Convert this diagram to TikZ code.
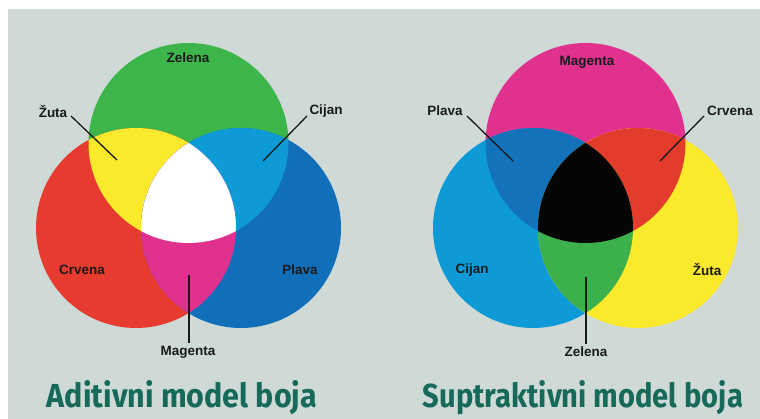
\documentclass[tikz,border=0pt]{standalone}
\usepackage{fontspec}
\setmainfont{Liberation Sans}
\newfontfamily\titlefont{Fira Sans}
\usepackage{graphicx}
\definecolor{bg}{HTML}{CFDAD6}
\definecolor{titlecol}{HTML}{17695A}
\definecolor{lbl}{HTML}{1A1A1A}
\definecolor{cgreen}{HTML}{3CB54A}
\definecolor{cred}{HTML}{E63B2E}
\definecolor{cblue}{HTML}{106FB8}
\definecolor{cyellow}{HTML}{FBE92B}
\definecolor{ccyan}{HTML}{0E9AD7}
\definecolor{cmagenta}{HTML}{E0318F}
\definecolor{sblue}{HTML}{1372B9}
\definecolor{sred}{HTML}{E33B2C}
\definecolor{sgreen}{HTML}{3CB04A}
\definecolor{sblack}{HTML}{050505}
\tikzset{
  lab/.style={text=lbl,font=\fontsize{13.5}{15}\selectfont\bfseries,inner sep=0pt},
  leader/.style={draw=lbl,line width=1.3pt},
  ttl/.style={text=titlecol,anchor=base,inner sep=0pt}
}
\begin{document}
\begin{tikzpicture}[x=1pt,y=-1pt]
\useasboundingbox (0,0) rectangle (760,419);
\fill[white] (0,0) rectangle (760,419);
\fill[bg] (8,9) rectangle (760,419);
% additive centres
\coordinate (G) at (188.5,143);
\coordinate (R) at (136,228);
\coordinate (B) at (241,228);
\fill[cgreen] (G) circle (100pt);
\fill[cred] (R) circle (100pt);
\fill[cblue] (B) circle (100pt);
\begin{scope}\clip (R) circle (100pt); \fill[cyellow] (G) circle (100pt);\end{scope}
\begin{scope}\clip (B) circle (100pt); \fill[ccyan] (G) circle (100pt);\end{scope}
\begin{scope}\clip (R) circle (100pt); \fill[cmagenta] (B) circle (100pt);\end{scope}
\begin{scope}\clip (R) circle (100pt); \clip (B) circle (100pt); \fill[white] (G) circle (100pt);\end{scope}
% subtractive centres
\coordinate (M) at (585.5,143);
\coordinate (C) at (533,228);
\coordinate (Y) at (638,228);
\fill[cmagenta] (M) circle (100pt);
\fill[ccyan] (C) circle (100pt);
\fill[cyellow] (Y) circle (100pt);
\begin{scope}\clip (C) circle (100pt); \fill[sblue] (M) circle (100pt);\end{scope}
\begin{scope}\clip (Y) circle (100pt); \fill[sred] (M) circle (100pt);\end{scope}
\begin{scope}\clip (C) circle (100pt); \fill[sgreen] (Y) circle (100pt);\end{scope}
\begin{scope}\clip (C) circle (100pt); \clip (Y) circle (100pt); \fill[sblack] (M) circle (100pt);\end{scope}
% additive labels
\node[lab] (zelenaA) at (188,58) {Zelena};
\node[lab] (zutaA) at (53,112) {Žuta};
\node[lab] (cijanA) at (326,111) {Cijan};
\node[lab] (crvenaA) at (82,270) {Crvena};
\node[lab] (plavaA) at (300,270) {Plava};
\node[lab] (magentaA) at (188,352) {Magenta};
\coordinate (zutaEnd) at (117,160);
\coordinate (cijanEnd) at (263,161);
\coordinate (magentaEnd) at (189,275);
\draw[leader] (71,116) coordinate (zutaStart) -- (zutaEnd);
\draw[leader] (307,116) coordinate (cijanStart) -- (cijanEnd);
\draw[leader] (magentaA.north) ++(1,-3) coordinate (magStart) -- (magentaEnd);
% subtractive labels
\node[lab] (magentaS) at (587,62) {Magenta};
\node[lab] (plavaS) at (445,111) {Plava};
\node[lab] (crvenaS) at (730,111) {Crvena};
\node[lab] (cijanS) at (472,270) {Cijan};
\node[lab] (zutaS) at (707,270) {Žuta};
\node[lab] (zelenaS) at (586,352) {Zelena};
\coordinate (plavaEnd) at (513,161);
\coordinate (crvenaEnd) at (660,161);
\coordinate (zelenaEnd) at (586,277);
\draw[leader] (467,116) coordinate (plavaStart) -- (plavaEnd);
\draw[leader] (704,116) coordinate (crvenaStart) -- (crvenaEnd);
\draw[leader] (zelenaS.north) ++(0,-3) coordinate (zelStart) -- (zelenaEnd);
% titles
\node[ttl] (titleA) at (182,407) {\resizebox{270pt}{27pt}{\titlefont\bfseries Aditivni model boja}};
\node[ttl] (titleS) at (583,407) {\resizebox{320pt}{27pt}{\titlefont\bfseries Suptraktivni model boja}};
\end{tikzpicture}
\end{document}
